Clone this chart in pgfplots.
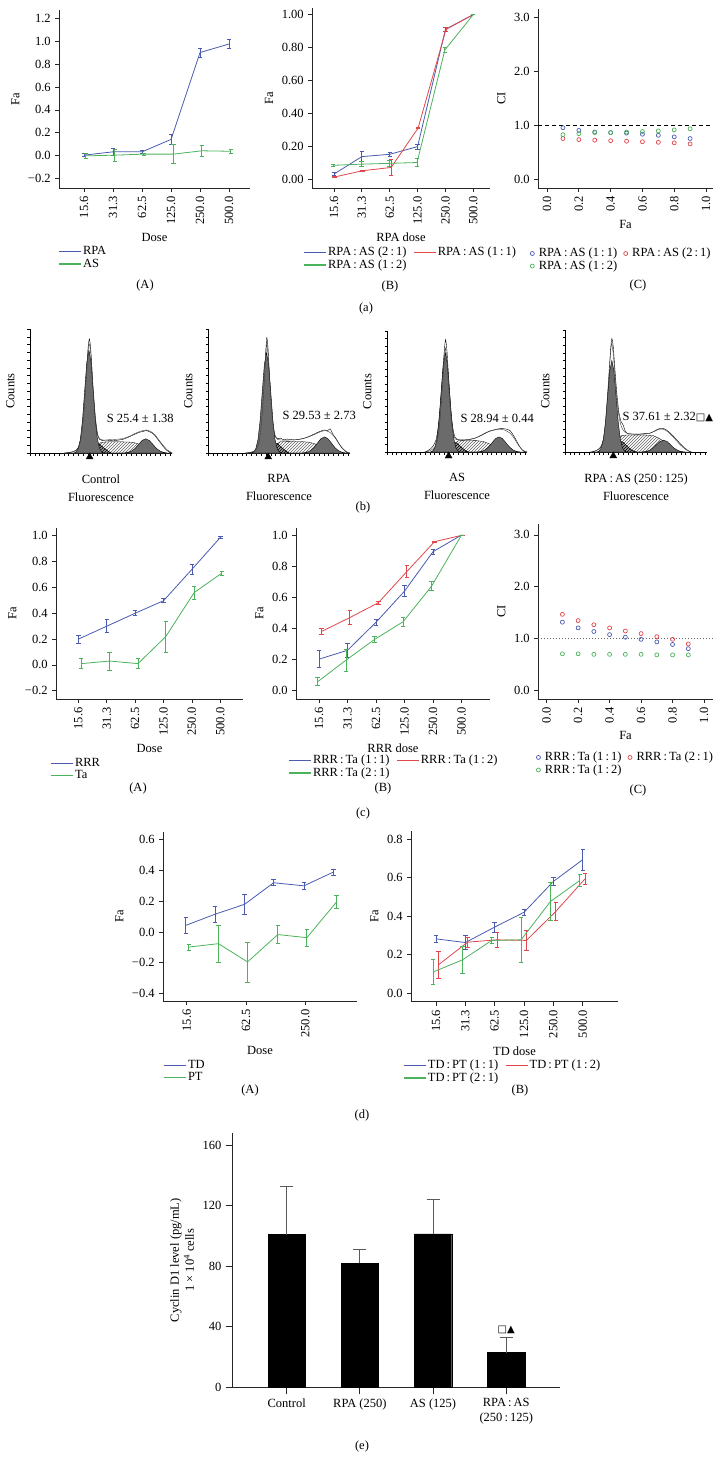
\documentclass[border=0pt]{standalone}
\usepackage{fontspec}
\setmainfont{Liberation Serif}
\newfontfamily\symf{DejaVu Sans}
\usepackage{pgfplots}
\pgfplotsset{compat=1.18}
\usetikzlibrary{patterns}
\definecolor{cblue}{HTML}{4A5BB0}
\definecolor{cgreen}{HTML}{4CB25C}
\definecolor{cred}{HTML}{E0474C}
\pgfplotsset{
 myax/.style={scale only axis, anchor=south west, axis lines=left,
   axis line style={-, line width=0.8pt, black!85},
   every tick/.style={line width=0.8pt, black!85},
   tick align=outside, major tick length=4pt, clip=false,
   legend cell align=left,
   legend style={draw=none, fill=none, anchor=north west, inner sep=0pt, row sep=-1pt,
     nodes={inner sep=1.5pt}, /tikz/every even column/.append style={column sep=5pt}},
   legend image code/.code={\draw[##1] (0pt,0pt) -- (22pt,0pt);},
 },
 dose/.style={xtick={0,...,5}, xticklabels={15.6,31.3,62.5,125.0,250.0,500.0},
   x tick label style={rotate=90, anchor=east}},
 ser/.style={line width=0.8pt, mark=none, forget plot,
   error bars/y dir=both, error bars/y explicit,
   error bars/error bar style={line width=0.8pt},
   error bars/error mark options={rotate=90, line width=0.8pt, mark size=2.2pt}},
 sc/.style={only marks, mark=o, mark size=2pt, mark options={line width=0.7pt}},
 scleg/.style={legend image code/.code={\draw[##1] plot coordinates {(3pt,0pt)};},
   legend style={/tikz/every odd column/.append style={column sep=3pt}}},
 histo/.style={scale only axis, anchor=south west, axis lines=left,
   axis line style={-, line width=0.7pt, black},
   xmin=0, xmax=100, ymin=0, ymax=100, width=142pt, height=124pt,
   xtick={0,3.4,...,100}, ytick={0,6.25,...,100},
   xticklabels={}, yticklabels={},
   tick align=outside, major tick length=2.5pt,
   every tick/.style={black, line width=0.5pt},
   clip=false, ylabel={Counts}, xlabel style={align=center, yshift=-6pt}},
 hout/.style={draw=black, line width=0.4pt, fill=white, smooth, tension=0.4},
 hfit/.style={draw=black!75, line width=0.4pt, smooth, tension=0.4},
 shat/.style={draw=black, line width=0.3pt, pattern=north east lines, pattern color=black!60},
 dhat/.style={draw=black, line width=0.3pt, fill=black!40, postaction={pattern=north east lines}},
 gpk/.style={draw=black, line width=0.4pt, fill=black!58},
 tri/.style={only marks, mark=triangle*, mark size=4pt, black},
}
\newcommand\legl[2]{\addlegendimage{draw=#1, line width=1.3pt, line cap=butt}\addlegendentry{#2}}
\newcommand\legm[2]{\addlegendimage{#1, only marks, mark=o, mark size=2pt, mark options={line width=0.7pt}}\addlegendentry{#2}}
\begin{document}
\fontsize{12.5}{15}\selectfont
\begin{tikzpicture}
\path[use as bounding box] (0pt,0pt) rectangle (727pt,-1460pt);

% ================= (a)(A)
\begin{axis}[myax, dose, at={(59pt,-188pt)}, width=191pt, height=178pt,
  xmin=-0.86, xmax=5.72, ymin=-0.28, ymax=1.27,
  ytick={-0.2,0,0.2,0.4,0.6,0.8,1.0,1.2},
  yticklabels={−0.2,0.0,0.2,0.4,0.6,0.8,1.0,1.2},
  xlabel={Dose}, ylabel={Fa},
  legend style={at={(axis description cs:-0.005,-0.32)}}]
\legl{cblue}{RPA}
\legl{cgreen}{AS}
\addplot[cblue, ser] coordinates {(0,0.006)+-(0,0.015) (1,0.035)+-(0,0.03) (2,0.035)+-(0,0.015) (3,0.143)+-(0,0.042) (4,0.90)+-(0,0.04) (5,0.974)+-(0,0.04)};
\addplot[cgreen, ser] coordinates {(0.06,0.0)+-(0,0.02) (1.06,0.006)+-(0,0.05) (2.06,0.015)+-(0,0.01) (3.08,0.015)+-(0,0.085) (4.06,0.044)+-(0,0.05) (5.06,0.04)+-(0,0.015)};
\end{axis}

% ================= (a)(B)
\begin{axis}[myax, dose, at={(312pt,-188pt)}, width=178pt, height=180pt,
  xmin=-0.79, xmax=5.6, ymin=-0.055, ymax=1.04,
  ytick={0,0.2,0.4,0.6,0.8,1.0},
  yticklabels={0.00,0.20,0.40,0.60,0.80,1.00},
  xlabel={RPA dose}, ylabel={Fa},
  legend columns=2,
  legend style={at={(axis description cs:-0.05,-0.32)}}]
\legl{cblue}{RPA\,:\,AS (2\,:\,1)}
\legl{cred}{RPA\,:\,AS (1\,:\,1)}
\legl{cgreen}{RPA\,:\,AS (1\,:\,2)}
\addplot[cblue, ser] coordinates {(0,0.03)+-(0,0.01) (1,0.136)+-(0,0.032) (2,0.15)+-(0,0.01) (3,0.197)+-(0,0.015) (4,0.91)+-(0,0.01) (5,1.0)+-(0,0)};
\addplot[cred, ser] coordinates {(0.02,0.012)+-(0,0.005) (1.02,0.05)+-(0,0.005) (2.05,0.07)+-(0,0.05) (3.02,0.31)+-(0,0.005) (4.02,0.91)+-(0,0.01) (5,1.0)+-(0,0)};
\addplot[cgreen, ser] coordinates {(-0.03,0.083)+-(0,0.005) (0.98,0.09)+-(0,0.015) (1.98,0.095)+-(0,0.02) (2.98,0.10)+-(0,0.025) (3.98,0.785)+-(0,0.015) (5,1.0)+-(0,0)};
\end{axis}

% ================= (a)(C)
\begin{axis}[myax, scleg, at={(538pt,-188pt)}, width=175pt, height=179pt,
  xmin=-0.057, xmax=1.044, ymin=-0.167, ymax=3.15,
  ytick={0,1,2,3}, yticklabels={0.0,1.0,2.0,3.0},
  xtick={0,0.2,0.4,0.6,0.8,1.0}, xticklabels={0.0,0.2,0.4,0.6,0.8,1.0},
  x tick label style={rotate=90, anchor=east},
  xlabel={Fa}, ylabel={CI},
  legend columns=2,
  legend style={at={(axis description cs:-0.045,-0.327)}}]
\legm{cblue}{RPA\,:\,AS (1\,:\,1)}
\legm{cred}{RPA\,:\,AS (2\,:\,1)}
\legm{cgreen}{RPA\,:\,AS (1\,:\,2)}
\addplot[cblue, sc, forget plot] coordinates {(0.1,0.95) (0.2,0.90) (0.3,0.87) (0.4,0.86) (0.5,0.85) (0.6,0.83) (0.7,0.81) (0.8,0.78) (0.9,0.75)};
\addplot[cred, sc, forget plot] coordinates {(0.1,0.75) (0.2,0.73) (0.3,0.72) (0.4,0.71) (0.5,0.70) (0.6,0.69) (0.7,0.68) (0.8,0.67) (0.9,0.65)};
\addplot[cgreen, sc, forget plot] coordinates {(0.1,0.82) (0.2,0.84) (0.3,0.86) (0.4,0.86) (0.5,0.87) (0.6,0.88) (0.7,0.89) (0.8,0.91) (0.9,0.93)};
\addplot[black, line width=0.8pt, dash pattern=on 4pt off 3pt, forget plot] coordinates {(-0.057,1) (1.044,1)};
\end{axis}

\node at (145pt,-285pt) {(A)};
\node at (390pt,-286pt) {(B)};
\node at (638pt,-285pt) {(C)};
\node at (366pt,-308pt) {(a)};

% ================= (b) histograms
\begin{axis}[histo, at={(30pt,-453pt)}, xlabel={Control\\[3pt]Fluorescence}]
\addplot[hout] coordinates {(24,0) (27,0.4) (30,1) (32,2) (34,4.5) (35.5,10) (37,22) (38.5,42) (40,68) (41,86) (41.8,92) (42.6,86) (43.5,70) (44.5,48) (46,27) (47.5,15) (49,11) (51,10) (54,9.8) (57,10.2) (60,10) (63,10.6) (66,11.2) (69,12.6) (72,14.2) (75,15.8) (78,17) (80,17.5) (82,18.2) (84,17.2) (86,16.2) (88,14) (90,11) (92,8) (94,5) (96,2.5) (98,0.8) (100,0)} \closedcycle;
\addplot[shat] coordinates {(44,0) (46,3) (48,6.5) (50,8.5) (55,9) (65,9) (72,8.7) (76,7.5) (79,5) (82,2.5) (85,0)} \closedcycle;
\addplot[dhat] coordinates {(36,0) (40,2) (44,5.5) (47,7.5) (49,7) (52,4) (55,1.5) (57,0)} \closedcycle;
\addplot[gpk] coordinates {(66.5,0) (69,0.5) (71.5,1.6) (74,3.7) (76.5,7) (79,10.1) (81.5,11.5) (84,10.1) (86.5,7) (89,3.7) (91.5,1.6) (94,0.5) (96.5,0)} \closedcycle;
\addplot[gpk] coordinates {(31,0) (32.5,0.9) (34,3.7) (35.5,11.2) (37,27) (38.5,50.4) (40,73.2) (41.5,83) (43,73.2) (44.5,50.4) (46,27) (47.5,11.2) (49,3.7) (50.5,0.9) (52,0)} \closedcycle;
\addplot[hfit] coordinates {(25,0) (30,0.8) (33,2.5) (35,7) (36.5,16) (38,33) (39.5,58) (41,84) (41.8,88) (43,78) (44.5,52) (46,30) (47.5,16) (49,11.5) (52,10.4) (56,10.8) (60,11) (65,11.6) (70,13.5) (74,15.8) (78,17.6) (82,18.6) (85,17.4) (88,14.6) (91,10.2) (94,5.8) (97,2.2) (100,0.3)};
\addplot[tri] coordinates {(42,-3.2)};
\node[anchor=west] at (axis cs:51,28) {S 25.4 ± 1.38};
\end{axis}

\begin{axis}[histo, at={(208pt,-453pt)}, xlabel={RPA\\[3pt]Fluorescence}]
\addplot[hout] coordinates {(26,0) (30,0.5) (33,1.5) (35,5) (36.5,12) (38,28) (39.5,55) (40.5,78) (41.4,93) (42.3,84) (43.3,62) (44.5,38) (46,20) (47.5,13) (49,11.5) (51,12) (53,10.8) (56,11.2) (60,10.6) (64,11) (68,12) (72,13.8) (76,16) (79,17.5) (82,18.6) (84,17.8) (86,19.5) (88,15) (90,12) (92,8) (94,4.5) (96,2) (98,0.5) (100,0)} \closedcycle;
\addplot[shat] coordinates {(45,0) (47,3.5) (49,7.5) (51,9.2) (56,9.4) (66,9.2) (71,8.7) (75,7.5) (78,5) (81,2.5) (84,0)} \closedcycle;
\addplot[dhat] coordinates {(36,0) (40,2) (44,5.5) (47,8) (49,7.5) (52,4.2) (55,1.5) (57,0)} \closedcycle;
\addplot[gpk] coordinates {(67,0) (69.5,0.6) (72,1.8) (74.5,4.2) (77,7.9) (79.5,11.5) (82,13) (84.5,11.5) (87,7.9) (89.5,4.2) (92,1.8) (94.5,0.6) (97,0)} \closedcycle;
\addplot[gpk] coordinates {(30.7,0) (32.2,0.9) (33.7,3.6) (35.2,10.9) (36.7,26.3) (38.2,49.2) (39.7,71.4) (41.2,81) (42.7,71.4) (44.2,49.2) (45.7,26.3) (47.2,10.9) (48.7,3.6) (50.2,0.9) (51.7,0)} \closedcycle;
\addplot[hfit] coordinates {(27,0) (31,0.8) (34,3) (36,9) (37.5,22) (39,45) (40.5,75) (41.3,88) (42.5,76) (44,48) (45.5,26) (47,15) (49,11) (53,10.4) (58,10.5) (63,10.8) (68,12) (72,13.5) (76,15.5) (80,17.5) (83,18) (86,16.5) (89,13) (92,8) (95,3.5) (98,0.8) (100,0)};
\addplot[tri] coordinates {(42.4,-3.2)};
\node[anchor=west] at (axis cs:49.5,30) {S 29.53 ± 2.73};
\end{axis}

\begin{axis}[histo, at={(387pt,-452pt)}, width=140pt, height=121pt, xlabel={AS\\[3pt]Fluorescence}]
\addplot[hout] coordinates {(27,0) (29,1) (31,2.5) (33,5) (35,10) (36.5,20) (38,38) (39.5,62) (40.8,82) (41.8,93) (42.8,84) (44,62) (45.5,36) (47,20) (48.5,12.5) (50,10.5) (53,9.8) (57,10) (61,10.8) (65,12.5) (69,15) (73,17.2) (77,18.5) (81,19.4) (85,19) (88,17.5) (91,12.5) (94,6) (96,2.5) (98,0.5) (100,0)} \closedcycle;
\addplot[shat] coordinates {(45,0) (47,3.5) (49,7.5) (51,9.3) (56,9.5) (64,9.4) (69,8.6) (73,6.8) (77,4) (81,1.5) (84,0)} \closedcycle;
\addplot[dhat] coordinates {(36,0) (40,2.2) (44,6) (47,8.2) (50,7.2) (53,4) (56,1.2) (58,0)} \closedcycle;
\addplot[gpk] coordinates {(65,0) (67.5,0.5) (70,1.7) (72.5,4.1) (75,7.6) (77.5,11) (80,12.5) (82.5,11) (85,7.6) (87.5,4.1) (90,1.7) (92.5,0.5) (95,0)} \closedcycle;
\addplot[gpk] coordinates {(31.2,0) (32.7,0.9) (34.2,3.6) (35.7,11.1) (37.2,26.6) (38.7,49.8) (40.2,72.3) (41.7,82) (43.2,72.3) (44.7,49.8) (46.2,26.6) (47.7,11.1) (49.2,3.6) (50.7,0.9) (52.2,0)} \closedcycle;
\addplot[hfit] coordinates {(28,0) (31,1.2) (34,4) (36,10) (37.5,22) (39,44) (40.5,70) (41.6,86) (42.8,76) (44.3,50) (46,26) (47.5,14) (49,10.6) (53,10) (58,10.4) (63,11.5) (68,14) (72,16.5) (76,18) (80,18.6) (84,18.2) (88,15.5) (91,11) (94,5.5) (97,1.5) (100,0)};
\addplot[tri] coordinates {(44,-3.3)};
\node[anchor=west] at (axis cs:49.5,28) {S 28.94 ± 0.44};
\end{axis}

\begin{axis}[histo, at={(565pt,-452pt)}, width=142pt, height=122pt, xlabel={RPA\,:\,AS (250\,:\,125)\\[3pt]Fluorescence}]
\addplot[hout] coordinates {(18,0) (21,0.8) (24,2.5) (26,6) (28,16) (29.5,35) (31,62) (32.2,85) (33,93) (34,86) (35,70) (36.5,48) (38,32) (39.5,25) (41,22) (42.5,17) (44,15) (47,14.8) (51,14.6) (55,15) (59,15.2) (62,16.5) (65,18.5) (68,19.5) (70,19) (72,17.5) (75,14.5) (78,11) (81,7) (84,3.5) (87,1) (89,0)} \closedcycle;
\addplot[shat] coordinates {(34,0) (36,6) (38,11) (40,13.5) (44,14) (55,14) (62,13.5) (66,11.5) (70,8.5) (74,5) (78,2) (81,0)} \closedcycle;
\addplot[dhat] coordinates {(27,0) (31,2.5) (35,6.5) (38,9) (41,8) (44,4.5) (47,1.5) (50,0)} \closedcycle;
\addplot[gpk] coordinates {(54.4,0) (56.9,0.4) (59.4,1.3) (61.9,3.1) (64.4,5.9) (66.9,8.6) (69.4,9.7) (71.9,8.6) (74.4,5.9) (76.9,3.1) (79.4,1.3) (81.9,0.4) (84.4,0)} \closedcycle;
\addplot[gpk] coordinates {(22.5,0) (24,0.8) (25.5,3.3) (27,10.1) (28.5,24.4) (30,45.5) (31.5,66.2) (33,75) (34.5,66.2) (36,45.5) (37.5,24.4) (39,10.1) (40.5,3.3) (42,0.8) (43.5,0)} \closedcycle;
\addplot[hfit] coordinates {(19,0) (22,1) (25,4) (27,10) (28.5,24) (30,48) (31.5,74) (32.8,89) (34,80) (35.5,58) (37,38) (38.5,26) (40,20) (42,16.5) (45,15) (50,14.5) (55,14.6) (60,15.5) (64,17.5) (67,18.8) (70,18.4) (73,16) (76,12.5) (79,8.5) (82,5) (85,2) (88,0.3)};
\addplot[tri] coordinates {(34,-3.2)};
\node[anchor=west] at (axis cs:37.5,29) {S 37.61 ± 2.32{\symf\fontsize{10}{10}\selectfont □▲}};
\end{axis}

\node at (363pt,-507pt) {(b)};

% ================= (c)(A)
\begin{axis}[myax, dose, at={(56pt,-699pt)}, width=187pt, height=171pt,
  xmin=-0.79, xmax=5.8, ymin=-0.264, ymax=1.06,
  ytick={-0.2,0,0.2,0.4,0.6,0.8,1.0},
  yticklabels={−0.2,0.0,0.2,0.4,0.6,0.8,1.0},
  xlabel={Dose}, ylabel={Fa},
  legend style={at={(axis description cs:-0.032,-0.336)}}]
\legl{cblue}{RRR}
\legl{cgreen}{Ta}
\addplot[cblue, ser] coordinates {(0,0.20)+-(0,0.03) (1,0.30)+-(0,0.05) (2,0.40)+-(0,0.02) (3,0.497)+-(0,0.015) (4,0.74)+-(0,0.04) (5,0.987)+-(0,0.01)};
\addplot[cgreen, ser] coordinates {(0.1,0.01)+-(0,0.04) (1.1,0.03)+-(0,0.07) (2.1,0.01)+-(0,0.04) (3.08,0.22)+-(0,0.12) (4.08,0.56)+-(0,0.05) (5.05,0.71)+-(0,0.015)};
\end{axis}

% ================= (c)(B)
\begin{axis}[myax, dose, at={(296pt,-699pt)}, width=194pt, height=171pt,
  xmin=-0.81, xmax=6.0, ymin=-0.053, ymax=1.045,
  ytick={0,0.2,0.4,0.6,0.8,1.0},
  yticklabels={0.0,0.2,0.4,0.6,0.8,1.0},
  xlabel={RRR dose}, ylabel={Fa},
  legend columns=2,
  legend style={at={(axis description cs:-0.041,-0.319)}}]
\legl{cblue}{RRR\,:\,Ta (1\,:\,1)}
\legl{cred}{RRR\,:\,Ta (1\,:\,2)}
\legl{cgreen}{RRR\,:\,Ta (2\,:\,1)}
\addplot[cblue, ser] coordinates {(0,0.203)+-(0,0.055) (1,0.26)+-(0,0.045) (2,0.44)+-(0,0.02) (3,0.64)+-(0,0.035) (4,0.893)+-(0,0.015) (5,1.0)+-(0,0)};
\addplot[cred, ser] coordinates {(0.08,0.38)+-(0,0.02) (1.08,0.47)+-(0,0.045) (2.08,0.565)+-(0,0.01) (3.08,0.765)+-(0,0.04) (4.05,0.957)+-(0,0.005) (5.05,1.0)+-(0,0)};
\addplot[cgreen, ser] coordinates {(-0.05,0.058)+-(0,0.025) (0.95,0.197)+-(0,0.07) (1.95,0.33)+-(0,0.02) (2.95,0.443)+-(0,0.03) (3.95,0.672)+-(0,0.03) (5,1.0)+-(0,0)};
\end{axis}

% ================= (c)(C)
\begin{axis}[myax, scleg, at={(538pt,-699pt)}, width=175pt, height=175pt,
  xmin=-0.055, xmax=1.057, ymin=-0.16, ymax=3.21,
  ytick={0,1,2,3}, yticklabels={0.0,1.0,2.0,3.0},
  xtick={0,0.2,0.4,0.6,0.8,1.0}, xticklabels={0.0,0.2,0.4,0.6,0.8,1.0},
  x tick label style={rotate=90, anchor=east},
  xlabel={Fa}, ylabel={CI},
  legend columns=2,
  legend style={at={(axis description cs:-0.01,-0.294)}}]
\legm{cblue}{RRR\,:\,Ta (1\,:\,1)}
\legm{cred}{RRR\,:\,Ta (2\,:\,1)}
\legm{cgreen}{RRR\,:\,Ta (1\,:\,2)}
\addplot[cblue, sc, forget plot] coordinates {(0.1,1.32) (0.2,1.21) (0.3,1.14) (0.4,1.08) (0.5,1.03) (0.6,0.99) (0.7,0.94) (0.8,0.89) (0.9,0.81)};
\addplot[cred, sc, forget plot] coordinates {(0.1,1.47) (0.2,1.35) (0.3,1.27) (0.4,1.21) (0.5,1.15) (0.6,1.10) (0.7,1.04) (0.8,0.99) (0.9,0.90)};
\addplot[cgreen, sc, forget plot] coordinates {(0.1,0.71) (0.2,0.71) (0.3,0.70) (0.4,0.70) (0.5,0.70) (0.6,0.70) (0.7,0.69) (0.8,0.69) (0.9,0.69)};
\addplot[black!60, line width=0.8pt, dash pattern=on 1.2pt off 1.8pt, forget plot] coordinates {(-0.055,1) (1.057,1)};
\end{axis}

\node at (138pt,-788pt) {(A)};
\node at (383pt,-788pt) {(B)};
\node at (638pt,-790pt) {(C)};
\node at (363pt,-813pt) {(c)};

% ================= (d)(A)
\begin{axis}[myax, at={(163pt,-1001pt)}, width=194pt, height=169pt,
  xmin=-0.8, xmax=5.74, ymin=-0.449, ymax=0.65,
  xtick={0,2,4}, xticklabels={15.6,62.5,250.0},
  x tick label style={rotate=90, anchor=east},
  ytick={-0.4,-0.2,0,0.2,0.4,0.6},
  yticklabels={−0.4,−0.2,0.0,0.2,0.4,0.6},
  xlabel={Dose}, ylabel={Fa},
  legend style={at={(axis description cs:0,-0.34)}}]
\legl{cblue}{TD}
\legl{cgreen}{PT}
\addplot[cblue, ser] coordinates {(-0.03,0.043)+-(0,0.054) (0.95,0.115)+-(0,0.05) (1.95,0.18)+-(0,0.065) (2.93,0.32)+-(0,0.02) (3.95,0.30)+-(0,0.02) (4.95,0.39)+-(0,0.02)};
\addplot[cgreen, ser] coordinates {(0.07,-0.098)+-(0,0.02) (1.07,-0.076)+-(0,0.12) (2.05,-0.195)+-(0,0.13) (3.07,-0.017)+-(0,0.06) (4.05,-0.037)+-(0,0.055) (5.05,0.195)+-(0,0.04)};
\end{axis}

% ================= (d)(B)
\begin{axis}[myax, dose, at={(411pt,-1001.7pt)}, width=207pt, height=171pt,
  xmin=-0.85, xmax=6.2, ymin=-0.044, ymax=0.843,
  ytick={0,0.2,0.4,0.6,0.8},
  yticklabels={0.0,0.2,0.4,0.6,0.8},
  xlabel={TD dose}, ylabel={Fa},
  legend columns=2,
  legend style={at={(axis description cs:-0.039,-0.332)}}]
\legl{cblue}{TD\,:\,PT (1\,:\,1)}
\legl{cred}{TD\,:\,PT (1\,:\,2)}
\legl{cgreen}{TD\,:\,PT (2\,:\,1)}
\addplot[cblue, ser] coordinates {(0,0.282)+-(0,0.02) (1,0.263)+-(0,0.035) (2,0.343)+-(0,0.025) (3,0.42)+-(0,0.015) (4,0.58)+-(0,0.02) (5,0.693)+-(0,0.055)};
\addplot[cred, ser] coordinates {(0.08,0.147)+-(0,0.07) (1.08,0.265)+-(0,0.025) (2.08,0.277)+-(0,0.04) (3.08,0.274)+-(0,0.05) (4.08,0.424)+-(0,0.045) (5.08,0.594)+-(0,0.03)};
\addplot[cgreen, ser] coordinates {(-0.1,0.11)+-(0,0.065) (0.9,0.173)+-(0,0.07) (1.9,0.274)+-(0,0.015) (2.9,0.277)+-(0,0.115) (3.9,0.476)+-(0,0.1) (4.9,0.585)+-(0,0.03)};
\end{axis}

\node at (250pt,-1090pt) {(A)};
\node at (520pt,-1090pt) {(B)};
\node at (362pt,-1115pt) {(d)};

% ================= (e)
\begin{axis}[myax, at={(232.7pt,-1387.3pt)}, width=327pt, height=254pt,
  major tick length=7pt,
  xmin=-0.737, xmax=3.73, ymin=0, ymax=168,
  ytick={0,40,80,120,160}, yticklabels={0,40,80,120,160},
  xtick={0,1,2,3},
  xticklabels={Control,RPA (250),AS (125),{RPA\,:\,AS\\(250\,:\,125)}},
  x tick label style={align=center, anchor=north},
  ylabel={Cyclin D1 level (pg/mL)\\1 × 10\textsuperscript{4} cells},
  ylabel style={align=center}]
\addplot[ybar, bar width=37.3pt, fill=black, draw=black,
  error bars/y dir=plus, error bars/y explicit,
  error bars/error bar style={black!65, line width=1pt},
  error bars/error mark options={rotate=90, black!65, line width=1pt, mark size=6.5pt}]
  coordinates {(0,101)+-(0,31.5) (1,81.9)+-(0,9.5) (2,101.5)+-(0,23) (3,22.9)+-(0,10)};
\node at (axis cs:3,38) {\symf\fontsize{10}{10}\selectfont □▲};
\end{axis}

\node at (362pt,-1446pt) {(e)};
\end{tikzpicture}
\end{document}
